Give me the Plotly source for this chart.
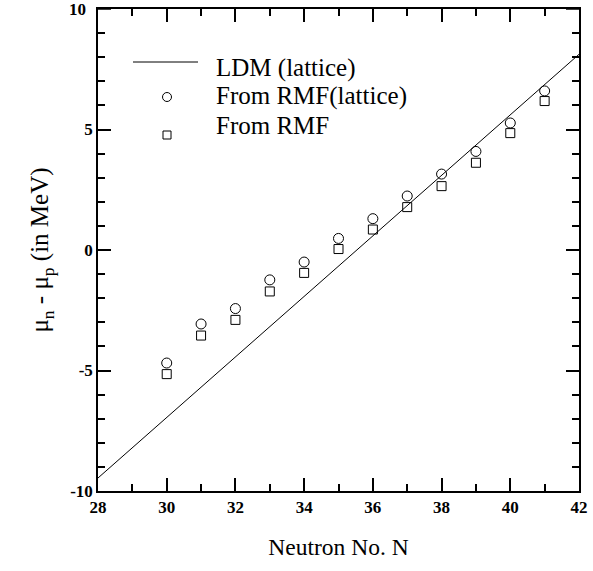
import plotly.graph_objects as go

N = [30, 31, 32, 33, 34, 35, 36, 37, 38, 39, 40, 41]
rmf_lattice = [-4.69, -3.07, -2.43, -1.24, -0.50, 0.48, 1.30, 2.24, 3.15, 4.09, 5.27, 6.60]
rmf = [-5.15, -3.55, -2.90, -1.72, -0.95, 0.04, 0.85, 1.78, 2.65, 3.62, 4.85, 6.18]
ldm_x = [28, 42]
ldm_y = [-9.46, 8.12]

legend_labels = ["LDM (lattice)", "From RMF(lattice)", "From RMF"]

FONT = "Liberation Serif, Times New Roman, DejaVu Serif, serif"

fig = go.Figure()
fig.add_trace(go.Scatter(x=ldm_x, y=ldm_y, mode="lines",
                         line=dict(color="black", width=1), showlegend=False))
fig.add_trace(go.Scatter(x=N, y=rmf_lattice, mode="markers",
                         marker=dict(symbol="circle-open", size=10, color="black",
                                     line=dict(width=1, color="black")),
                         showlegend=False))
fig.add_trace(go.Scatter(x=N, y=rmf, mode="markers",
                         marker=dict(symbol="square-open", size=9, color="black",
                                     line=dict(width=1, color="black")),
                         showlegend=False))

# manual legend (paper coordinates)
W, H = 593, 571
L, R, T, B = 98, 14, 9, 80
pw, ph = W - L - R, H - T - B

def px(x):
    return (x - L) / pw

def py(y):
    return 1 - (y - T) / ph

fig.add_shape(type="line", xref="paper", yref="paper",
              x0=px(133), x1=px(198), y0=py(62), y1=py(62),
              line=dict(color="black", width=1))
fig.add_shape(type="circle", xref="paper", yref="paper",
              x0=px(162.5), x1=px(171.5), y0=py(92.5), y1=py(101.5),
              line=dict(color="black", width=1))
fig.add_shape(type="rect", xref="paper", yref="paper",
              x0=px(163), x1=px(171), y0=py(131), y1=py(139),
              line=dict(color="black", width=1))
for lab, yy in zip(legend_labels, [68, 96, 125]):
    fig.add_annotation(xref="paper", yref="paper", x=px(214), y=py(yy),
                       xanchor="left", yanchor="middle", text=lab, showarrow=False,
                       font=dict(family=FONT, size=25, color="black"))

axis_common = dict(
    showgrid=False, zeroline=False, showline=True, linecolor="black", linewidth=1.5,
    mirror="ticks", ticks="inside", ticklen=13, tickwidth=1.5, tickcolor="black",
    tickfont=dict(family=FONT, size=17, color="black"), automargin=False,
)

fig.update_layout(
    width=W, height=H, margin=dict(l=L, r=R, t=T, b=B),
    paper_bgcolor="white", plot_bgcolor="white",
    xaxis=dict(range=[28, 42], tickvals=[28, 30, 32, 34, 36, 38, 40, 42],
               ticktext=["<b>%d</b>" % v for v in [28, 30, 32, 34, 36, 38, 40, 42]],
               minor=dict(tickvals=[29, 31, 33, 35, 37, 39, 41], ticks="inside",
                          ticklen=7, tickwidth=1.5, tickcolor="black"),
               title=dict(text="Neutron No. N", font=dict(family=FONT, size=23.5, color="black"),
                          standoff=22),
               **axis_common),
    yaxis=dict(range=[-10, 10], tickvals=[-10, -5, 0, 5],
               ticktext=["<b>%d</b>" % v for v in [-10, -5, 0, 5]],
               minor=dict(dtick=1, ticks="inside", ticklen=7, tickwidth=1.5, tickcolor="black"),
               title=dict(text="μ<sub>n</sub> - μ<sub>p</sub> (in MeV)",
                          font=dict(family=FONT, size=25, color="black"), standoff=14),
               **axis_common),
)
# y = 10 tick (major) and its label, drawn separately so it is kept at the page edge
fig.add_shape(type="line", xref="paper", yref="y", x0=0, x1=13 / pw, y0=10, y1=10,
              line=dict(color="black", width=1.5))
fig.add_shape(type="line", xref="paper", yref="y", x0=1 - 13 / pw, x1=1, y0=10, y1=10,
              line=dict(color="black", width=1.5))
fig.add_annotation(xref="paper", yref="y", x=-10 / pw, y=10, xanchor="right", yanchor="middle",
                   text="<b>10</b>", showarrow=False,
                   font=dict(family=FONT, size=17, color="black"))

fig.write_html("out.html")
